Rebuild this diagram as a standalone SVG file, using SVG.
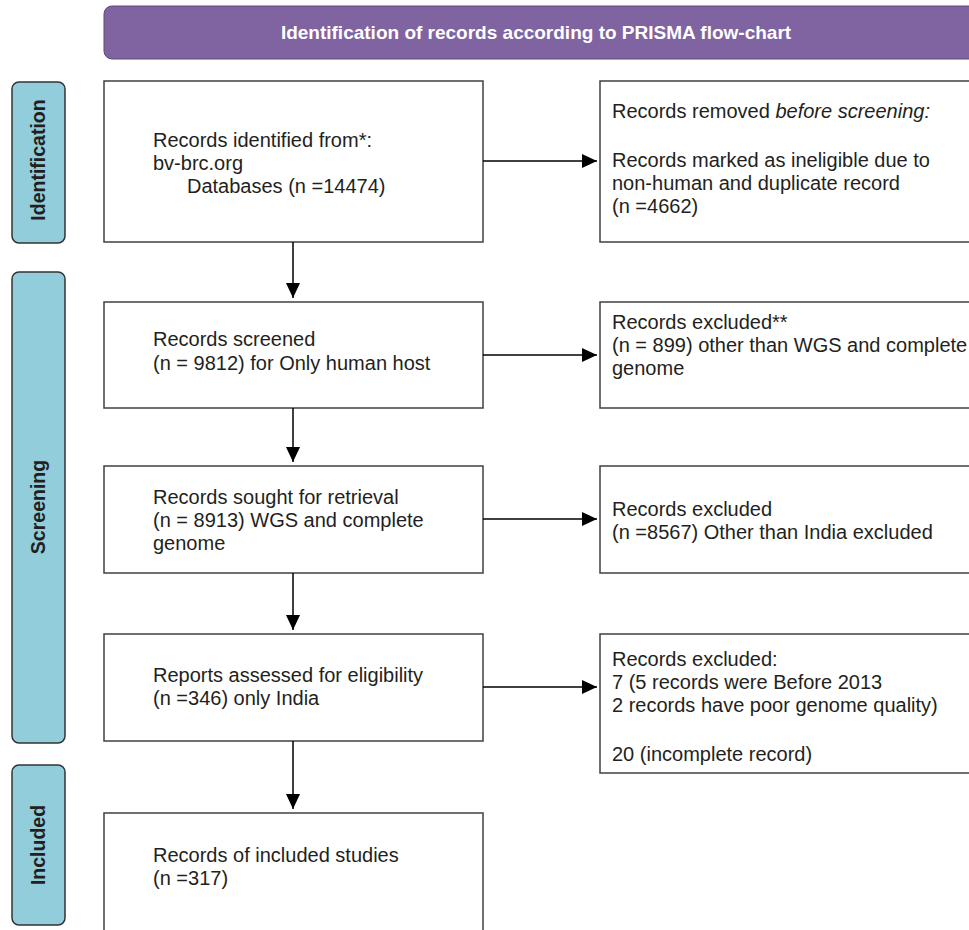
<svg xmlns="http://www.w3.org/2000/svg" width="969" height="930" viewBox="0 0 969 930">
<defs>
<style>
.box{fill:#fff;stroke:#404040;stroke-width:1.5}
.side{fill:#92cddc;stroke:#333;stroke-width:1.5}
.t{font-family:"Liberation Sans",Arial,sans-serif;font-size:20px;fill:#231f20}
.st{font-family:"Liberation Sans",Arial,sans-serif;font-size:19.5px;font-weight:bold;fill:#231f20;text-anchor:middle}
.hd{font-family:"Liberation Sans",Arial,sans-serif;font-size:19px;font-weight:bold;fill:#fff;text-anchor:middle}
.c{stroke:#000;stroke-width:1.5;fill:none;marker-end:url(#arr)}
</style>
<marker id="arr" markerUnits="userSpaceOnUse" markerWidth="16" markerHeight="14" refX="15" refY="7" orient="auto">
<path d="M0,0 L15,7 L0,14 z" fill="#000"/>
</marker>
</defs>
<rect width="969" height="930" fill="#fff"/>
<g id="header">
<rect x="104" y="6" width="880" height="53" rx="8" fill="#8064a2" stroke="#5c4a78" stroke-width="1"/>
<text class="hd" x="536" y="39">Identification of records according to PRISMA flow-chart</text>
</g>
<g id="side-identification">
<rect class="side" x="12" y="82" width="53" height="161" rx="7"/>
<text class="st" transform="translate(45,160) rotate(-90)">Identification</text>
</g>
<g id="side-screening">
<rect class="side" x="12" y="272" width="53" height="471" rx="7"/>
<text class="st" transform="translate(45,507) rotate(-90)">Screening</text>
</g>
<g id="side-included">
<rect class="side" x="12" y="765" width="53" height="160" rx="7"/>
<text class="st" transform="translate(45,845) rotate(-90)">Included</text>
</g>
<g id="identified">
<rect class="box" x="104" y="81" width="379" height="161"/>
<text class="t" x="153" y="147">Records identified from*:</text>
<text class="t" x="153" y="170">bv-brc.org</text>
<text class="t" x="187" y="193">Databases (n =14474)</text>
</g>
<g id="removed">
<rect class="box" x="600" y="81" width="380" height="161"/>
<text class="t" x="612" y="118">Records removed <tspan font-style="italic">before screening:</tspan></text>
<text class="t" x="612" y="167">Records marked as ineligible due to</text>
<text class="t" x="612" y="190">non-human and duplicate record</text>
<text class="t" x="612" y="213">(n =4662)</text>
</g>
<g id="screened">
<rect class="box" x="104" y="302" width="379" height="106"/>
<text class="t" x="153" y="346">Records screened</text>
<text class="t" x="153" y="370">(n = 9812) for Only human host</text>
</g>
<g id="excluded1">
<rect class="box" x="600" y="302" width="380" height="106"/>
<text class="t" x="612" y="329">Records excluded**</text>
<text class="t" x="612" y="352">(n = 899) other than WGS and complete</text>
<text class="t" x="612" y="375">genome</text>
</g>
<g id="sought">
<rect class="box" x="104" y="466" width="379" height="107"/>
<text class="t" x="153" y="504">Records sought for retrieval</text>
<text class="t" x="153" y="527">(n = 8913) WGS and complete</text>
<text class="t" x="153" y="550">genome</text>
</g>
<g id="excluded2">
<rect class="box" x="600" y="466" width="380" height="107"/>
<text class="t" x="612" y="516">Records excluded</text>
<text class="t" x="612" y="539">(n =8567) Other than India excluded</text>
</g>
<g id="assessed">
<rect class="box" x="104" y="634" width="379" height="107"/>
<text class="t" x="153" y="682">Reports assessed for eligibility</text>
<text class="t" x="153" y="705">(n =346) only India</text>
</g>
<g id="excluded3">
<rect class="box" x="600" y="634" width="380" height="139"/>
<text class="t" x="612" y="666">Records excluded:</text>
<text class="t" x="612" y="689">7 (5 records were Before 2013</text>
<text class="t" x="612" y="712">2 records have poor genome quality)</text>
<text class="t" x="612" y="761">20 (incomplete record)</text>
</g>
<g id="included">
<rect class="box" x="104" y="813" width="379" height="130"/>
<text class="t" x="153" y="862">Records of included studies</text>
<text class="t" x="153" y="885">(n =317)</text>
</g>
<g id="connectors">
<line class="c" x1="483" y1="161" x2="597" y2="161"/>
<line class="c" x1="483" y1="355" x2="597" y2="355"/>
<line class="c" x1="483" y1="519" x2="597" y2="519"/>
<line class="c" x1="483" y1="687" x2="597" y2="687"/>
<line class="c" x1="293" y1="242" x2="293" y2="298"/>
<line class="c" x1="293" y1="408" x2="293" y2="462"/>
<line class="c" x1="293" y1="573" x2="293" y2="630"/>
<line class="c" x1="293" y1="741" x2="293" y2="809"/>
</g>
</svg>
